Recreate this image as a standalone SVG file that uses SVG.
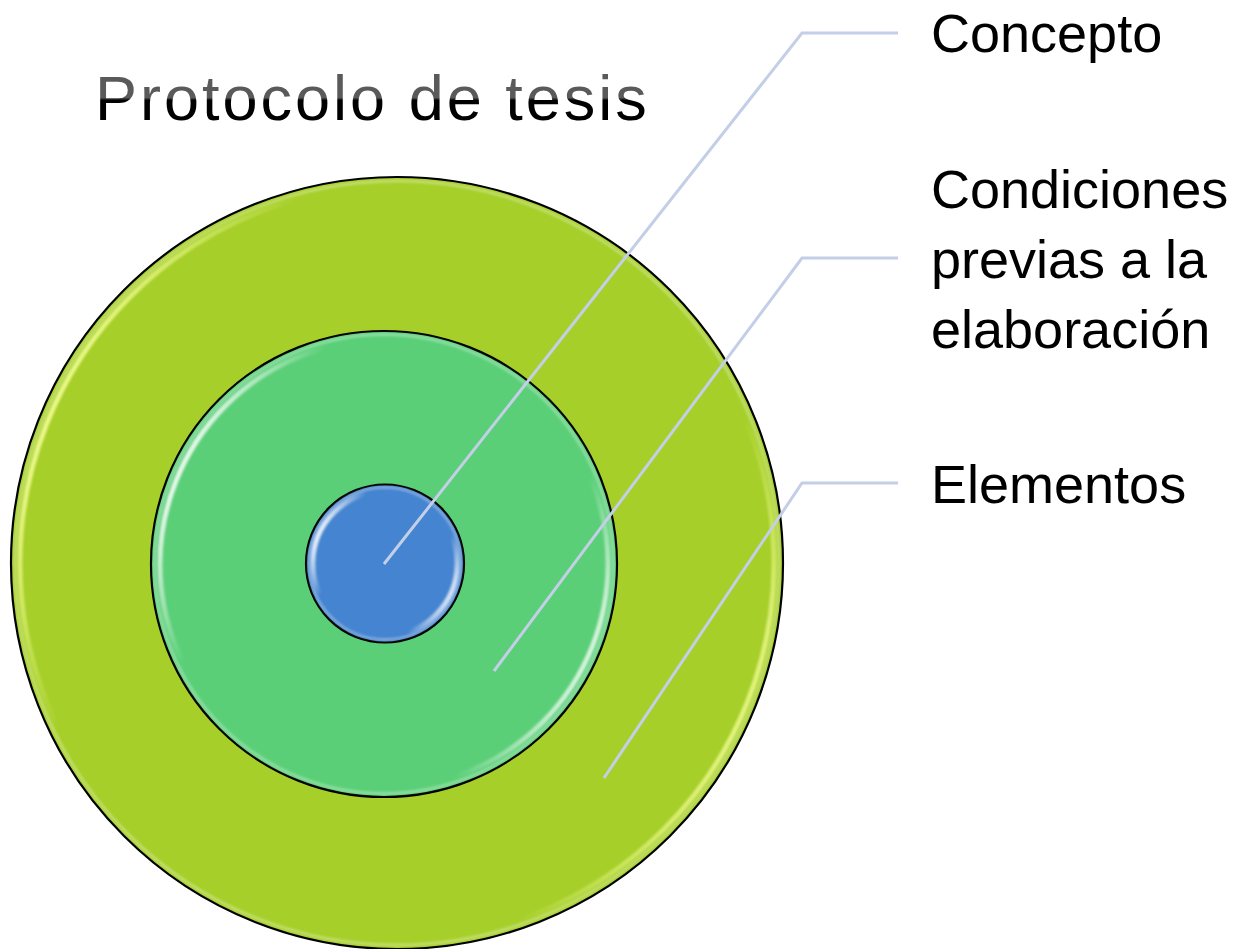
<svg xmlns="http://www.w3.org/2000/svg" width="1245" height="949" viewBox="0 0 1245 949">
  <style>
    .ring { stroke: #000; stroke-width: 2.2; }
    .gloss { fill: none; stroke-width: 5; filter: url(#soft); }
    .rim { fill: none; stroke: #ffffff; stroke-opacity: 0.3; stroke-width: 3; filter: url(#soft); }
    .conn { fill: none; stroke: #c3cfe6; stroke-width: 3; stroke-linejoin: miter; }
    .label { font-family: "Liberation Sans", Arial, sans-serif; font-size: 54px; fill: #000; }
    .title { font-family: "Liberation Sans", Arial, sans-serif; font-size: 63px; letter-spacing: 3px; fill: url(#titleGrad); }
  </style>
  <defs>
    <linearGradient id="glossGrad" x1="0" y1="0.3" x2="1" y2="0.75">
      <stop offset="0" stop-color="#ffffff" stop-opacity="1"/>
      <stop offset="0.2" stop-color="#ffffff" stop-opacity="0"/>
      <stop offset="0.8" stop-color="#ffffff" stop-opacity="0"/>
      <stop offset="1" stop-color="#ffffff" stop-opacity="1"/>
    </linearGradient>
    <linearGradient id="glossYellow" x1="0" y1="0.3" x2="1" y2="0.75">
      <stop offset="0" stop-color="#f6ff9a" stop-opacity="1"/>
      <stop offset="0.2" stop-color="#f6ff9a" stop-opacity="0"/>
      <stop offset="0.8" stop-color="#f6ff9a" stop-opacity="0"/>
      <stop offset="1" stop-color="#f6ff9a" stop-opacity="1"/>
    </linearGradient>
    <linearGradient id="titleGrad" gradientUnits="userSpaceOnUse" x1="0" y1="73" x2="0" y2="122">
      <stop offset="0" stop-color="#5a5a5a"/>
      <stop offset="0.5" stop-color="#5a5a5a"/>
      <stop offset="0.56" stop-color="#000000"/>
      <stop offset="1" stop-color="#000000"/>
    </linearGradient>
    <filter id="soft" x="-10%" y="-10%" width="120%" height="120%">
      <feGaussianBlur stdDeviation="1.2"/>
    </filter>
  </defs>

  <rect width="1245" height="949" fill="#ffffff"/>

  <text id="title" class="title" x="95" y="120">Protocolo de tesis</text>

  <g id="node-elementos">
    <circle class="ring" cx="397" cy="563" r="386" fill="#a6cf2a"/>
    <circle class="rim" cx="397" cy="563" r="382"/>
    <circle class="gloss" cx="397" cy="563" r="377" stroke="url(#glossYellow)"/>
  </g>

  <g id="node-condiciones">
    <circle class="ring" cx="384" cy="564" r="233" fill="#5bcf78"/>
    <circle class="rim" cx="384" cy="564" r="229.5"/>
    <circle class="gloss" cx="384" cy="564" r="224" stroke="url(#glossGrad)"/>
  </g>

  <g id="node-concepto">
    <circle class="ring" cx="385" cy="563.5" r="79" fill="#4584d0"/>
    <circle class="rim" cx="385" cy="563.5" r="76"/>
    <circle class="gloss" cx="385" cy="563.5" r="72" stroke="url(#glossGrad)"/>
  </g>

  <g id="connectors">
    <polyline class="conn" points="384,564 802,33 898,33"/>
    <polyline class="conn" points="494,671 802,258 898,258"/>
    <polyline class="conn" points="604,778 802,483 898,483"/>
  </g>

  <g id="labels">
    <text class="label" x="931" y="52">Concepto</text>
    <text class="label" x="931" y="208">Condiciones</text>
    <text class="label" x="931" y="278">previas a la</text>
    <text class="label" x="931" y="348">elaboración</text>
    <text class="label" x="931" y="503">Elementos</text>
  </g>
</svg>
